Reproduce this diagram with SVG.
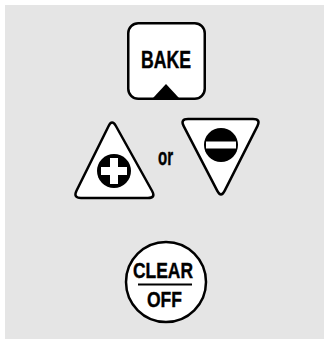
<svg xmlns="http://www.w3.org/2000/svg" width="324" height="339" viewBox="0 0 324 339">
<style>
.shape{fill:#fff;stroke:#000;stroke-width:2.5;stroke-linejoin:round}
.lbl{font-family:"Liberation Sans",Arial,sans-serif;font-weight:bold;fill:#000;stroke:#000;stroke-width:0.4}
</style>
<rect x="0" y="0" width="324" height="339" fill="#fff"/>
<rect x="5" y="5" width="319" height="334" fill="#e5e5e5"/>
<g id="bake">
<rect class="shape" x="128.25" y="23.25" width="76.5" height="75.5" rx="10"/>
<text class="lbl" x="141" y="67.5" font-size="23.5" textLength="50" lengthAdjust="spacingAndGlyphs">BAKE</text>
<polygon points="153,98 179,98 166,84" fill="#000"/>
</g>
<g id="plus">
<path class="shape" d="M108.5,126.2 Q112,119 115.9,126 L152.1,191 Q156,198 148,198 L81,198 Q73,198 76.5,190.8 Z"/>
<circle cx="114" cy="171" r="17" fill="#000"/>
<rect x="101" y="167" width="26" height="8" fill="#fff"/>
<rect x="110" y="158" width="8" height="26" fill="#fff"/>
</g>
<g id="or">
<text class="lbl" x="158" y="165" font-size="23" textLength="15" lengthAdjust="spacingAndGlyphs">or</text>
</g>
<g id="minus">
<path class="shape" d="M188,119 L253,119 Q261,119 257.4,126.1 L224.6,190.9 Q221,198 217.3,190.9 L183.7,126.1 Q180,119 188,119 Z"/>
<circle cx="221" cy="145" r="17" fill="#000"/>
<rect x="206" y="141.5" width="30" height="7" fill="#fff"/>
</g>
<g id="clear">
<circle class="shape" cx="166" cy="282" r="40"/>
<text class="lbl" x="133" y="278" font-size="21.5" textLength="60" lengthAdjust="spacingAndGlyphs">CLEAR</text>
<line x1="138" y1="284.5" x2="192" y2="284.5" stroke="#000" stroke-width="2"/>
<text class="lbl" x="147" y="307" font-size="22.5" textLength="35" lengthAdjust="spacingAndGlyphs">OFF</text>
</g>
<g id="connectors"/>
</svg>
